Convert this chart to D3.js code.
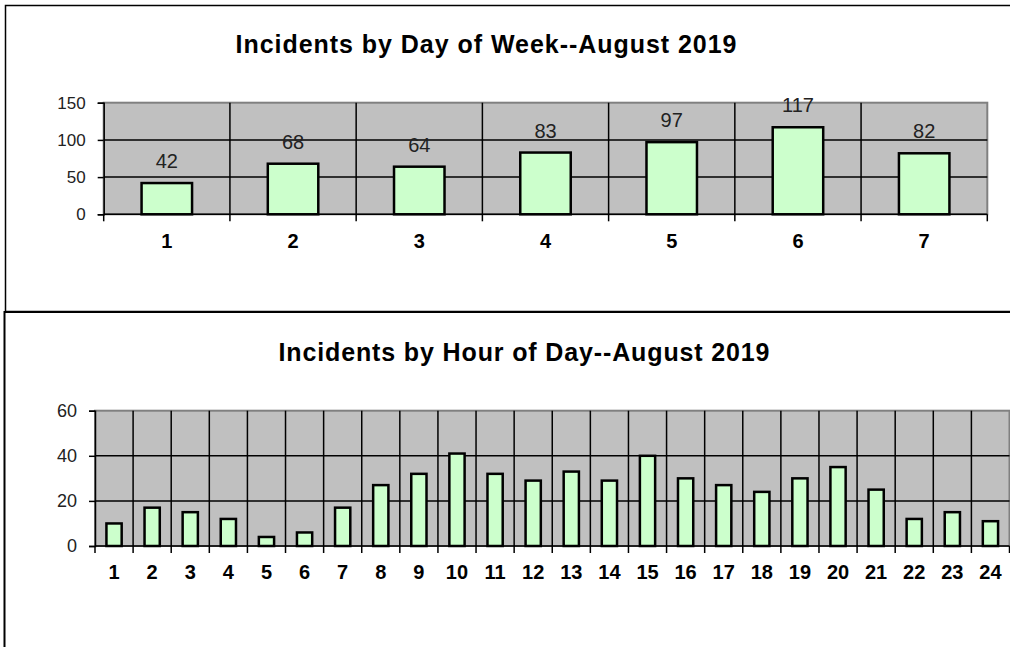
<!DOCTYPE html>
<html lang="en">

<head>
  <meta charset="UTF-8">
  <title>Incidents August 2019</title>
  <style>
    body { margin: 0; background: #fff; }
    svg { display: block; font-family: Arial, 'Liberation Sans', sans-serif; }
  </style>
</head>

<body>
  <svg id="svg" width="1010" height="647"></svg>

  <script src="https://d3js.org/d3.v7.min.js"></script>
  <script>
    // day of week chart
    const days = ['1', '2', '3', '4', '5', '6', '7']
    const dayCounts = [42, 68, 64, 83, 97, 117, 82]
    const dayTicks = [0, 50, 100, 150]

    // hour of day chart
    const hours = ['1', '2', '3', '4', '5', '6', '7', '8', '9', '10', '11', '12',
      '13', '14', '15', '16', '17', '18', '19', '20', '21', '22', '23', '24']
    const hourCounts = [10, 17, 15, 12, 4, 6, 17, 27, 32, 41, 32, 29,
      33, 29, 40, 30, 27, 24, 30, 35, 25, 12, 15, 11]
    const hourTicks = [0, 20, 40, 60]

    const svg = d3.select('#svg')

    // chart frames
    svg.append('rect')
      .attr('x', 5.5).attr('y', 5.5)
      .attr('width', 1020).attr('height', 306)
      .attr('fill', '#fff')
      .attr('stroke', '#000')
      .attr('stroke-width', 1.5)
    svg.append('rect')
      .attr('x', 4.5).attr('y', 312)
      .attr('width', 1020).attr('height', 360)
      .attr('fill', '#fff')
      .attr('stroke', '#000')
      .attr('stroke-width', 2)

    function drawChart(opts) {
      const g = svg.append('g')
      const x = d3.scaleBand()
        .domain(opts.cats)
        .range([opts.left, opts.right])
      const y = d3.scaleLinear()
        .domain([0, d3.max(opts.ticks)])
        .range([opts.bottom, opts.top])

      g.append('text')
        .text(opts.title)
        .attr('x', opts.titleX)
        .attr('y', opts.titleY)
        .attr('text-anchor', 'middle')
        .attr('textLength', opts.titleW)
        .attr('lengthAdjust', 'spacing')
        .style('font-weight', 'bold')
        .style('font-size', '25px')

      // plot background
      g.append('rect')
        .attr('x', opts.left).attr('y', opts.top)
        .attr('width', opts.right - opts.left)
        .attr('height', opts.bottom - opts.top)
        .attr('fill', '#c0c0c0')
        .attr('stroke', '#808080')
        .attr('stroke-width', 2)

      // horizontal gridlines
      g.selectAll('.hgrid')
        .data(opts.ticks.slice(1, -1))
        .enter()
        .append('line')
        .attr('x1', opts.left).attr('x2', opts.right)
        .attr('y1', d => y(d)).attr('y2', d => y(d))
        .attr('stroke', '#000')
        .attr('stroke-width', 1.5)

      // vertical gridlines between categories
      g.selectAll('.vgrid')
        .data(opts.cats.slice(1))
        .enter()
        .append('line')
        .attr('x1', d => x(d)).attr('x2', d => x(d))
        .attr('y1', opts.top).attr('y2', opts.bottom)
        .attr('stroke', '#000')
        .attr('stroke-width', 1.5)

      // bars
      const bw = x.bandwidth() * 0.4
      g.selectAll('.bar')
        .data(opts.values)
        .enter()
        .append('rect')
        .attr('x', (d, i) => x(opts.cats[i]) + (x.bandwidth() - bw) / 2)
        .attr('y', d => y(d))
        .attr('width', bw)
        .attr('height', d => y(0) - y(d))
        .attr('fill', '#ccffcc')
        .attr('stroke', '#000')
        .attr('stroke-width', 2.5)

      if (opts.showLabels) {
        g.selectAll('.lbl')
          .data(opts.values)
          .enter()
          .append('text')
          .text(d => d)
          .attr('x', (d, i) => x(opts.cats[i]) + x.bandwidth() / 2)
          .attr('y', d => y(d) - 15)
          .attr('text-anchor', 'middle')
          .style('font-size', '20px')
          .attr('fill', '#222')
      }

      // y axis
      const yAxis = d3.axisLeft(y)
        .tickValues(opts.ticks)
        .tickSize(6)
        .tickPadding(12)
      const ya = g.append('g')
        .attr('transform', `translate(${opts.left},0)`)
        .call(yAxis)
      ya.select('.domain').attr('stroke', '#000').attr('stroke-width', 1.5)
      ya.selectAll('.tick line').attr('stroke-width', 1.5)
      ya.selectAll('.tick text')
        .style('font-size', opts.yFont)
        .style('font-family', 'Arial, Liberation Sans, sans-serif')
        .attr('fill', '#222')

      // x axis, ticks at category boundaries
      const xa = g.append('g')
        .attr('transform', `translate(0,${opts.bottom})`)
      xa.append('line')
        .attr('x1', opts.left).attr('x2', opts.right)
        .attr('stroke', '#000').attr('stroke-width', 1.5)
      xa.selectAll('.xtick')
        .data(opts.cats.concat(['end']))
        .enter()
        .append('line')
        .attr('x1', (d, i) => i < opts.cats.length ? x(d) : opts.right)
        .attr('x2', (d, i) => i < opts.cats.length ? x(d) : opts.right)
        .attr('y1', 0).attr('y2', 7)
        .attr('stroke', '#000').attr('stroke-width', 1.5)
      xa.selectAll('.xlbl')
        .data(opts.cats)
        .enter()
        .append('text')
        .text(d => d)
        .attr('x', d => x(d) + x.bandwidth() / 2)
        .attr('y', opts.labelDy)
        .attr('text-anchor', 'middle')
        .style('font-weight', 'bold')
        .style('font-size', '20px')
    }

    drawChart({
      title: 'Incidents by Day of Week--August 2019',
      titleX: 486, titleY: 53, titleW: 501,
      cats: days, values: dayCounts, ticks: dayTicks, yFont: '17px',
      left: 103.7, right: 987.3, top: 102.7, bottom: 214.3,
      labelDy: 34, showLabels: true
    })

    drawChart({
      title: 'Incidents by Hour of Day--August 2019',
      titleX: 524, titleY: 361, titleW: 491,
      cats: hours, values: hourCounts, ticks: hourTicks, yFont: '18px',
      left: 95, right: 1009.5, top: 410.7, bottom: 546,
      labelDy: 33, showLabels: false
    })
  </script>
</body>

</html>
